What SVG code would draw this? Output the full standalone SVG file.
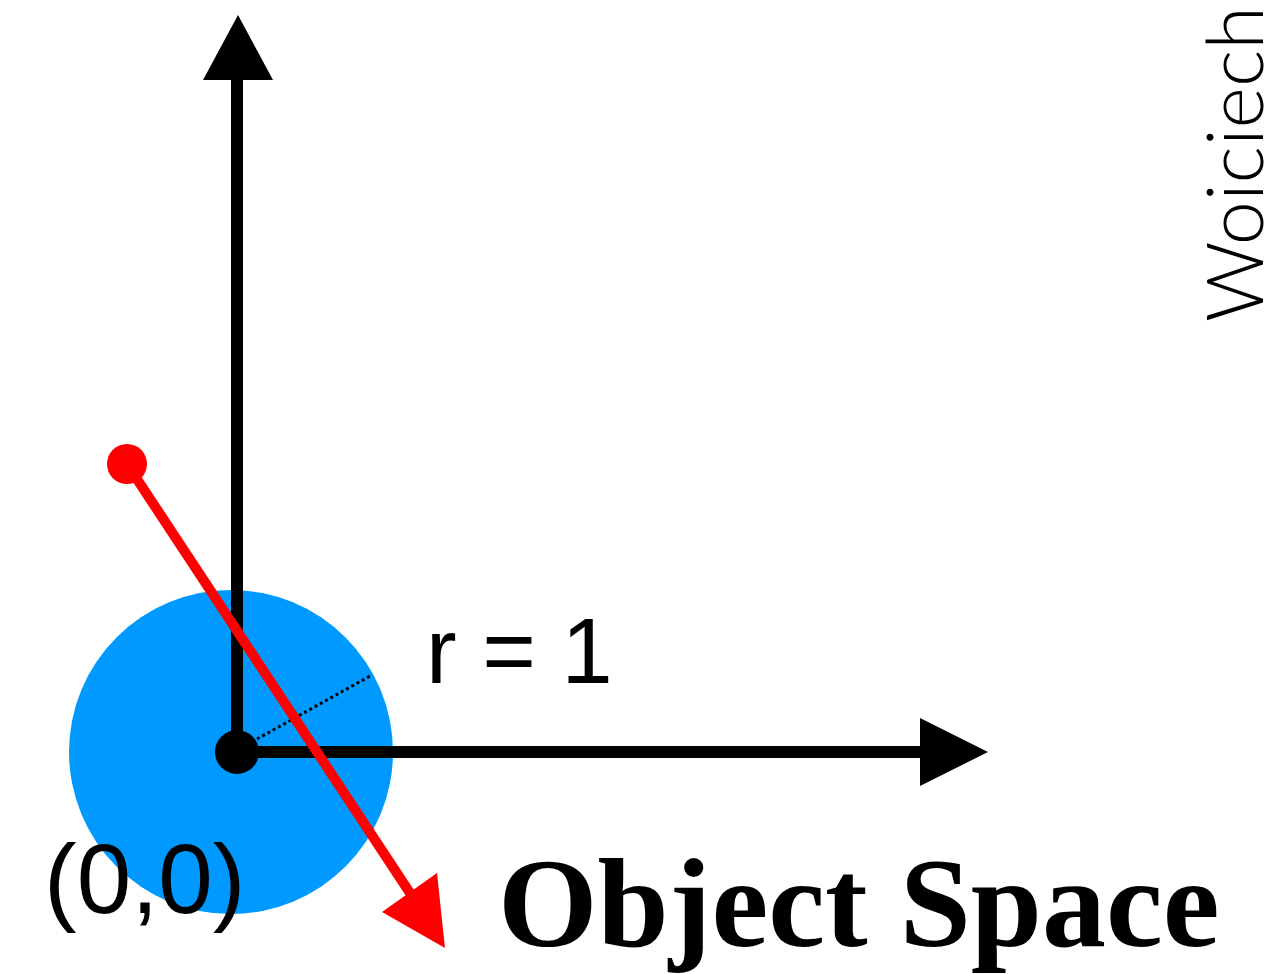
<svg xmlns="http://www.w3.org/2000/svg" width="1270" height="974" viewBox="0 0 1270 974">
<style>
.axis{stroke:#000;stroke-width:12;fill:none}
.head{fill:#000}
.red{stroke:#ff0000;stroke-width:10;fill:none}
.sans{font-family:"Liberation Sans",Arial,sans-serif;fill:#000}
.serifb{font-family:"Liberation Serif","Times New Roman",serif;font-weight:bold;fill:#000}
.thin{font-family:Lato,"Open Sans",sans-serif;font-weight:300;fill:#000}
</style>
<rect width="1270" height="974" fill="#fff"/>
<g id="sphere">
<circle cx="231" cy="752" r="162" fill="#0099ff"/>
</g>
<g id="connectors">
<line class="axis" x1="237" y1="752" x2="237" y2="78"/>
<polygon class="head" points="203,80 273,80 238,15"/>
<line class="axis" x1="237" y1="752" x2="922" y2="752"/>
<polygon class="head" points="920,718 920,786 988,752"/>
<line x1="257" y1="739" x2="370" y2="676" stroke="#000" stroke-width="3" stroke-dasharray="3 3"/>
<line class="red" x1="127" y1="464" x2="410" y2="893"/>
<polygon fill="#ff0000" points="382,912 437,873 445,948"/>
</g>
<g id="origin">
<circle cx="237" cy="752" r="22" fill="#000"/>
</g>
<g id="ray-origin">
<circle cx="127" cy="464" r="20" fill="#ff0000"/>
</g>
<g id="labels">
<text class="sans" x="426" y="683" font-size="92">r = 1</text>
<text class="sans" x="44" y="913" font-size="98">(0,0)</text>
<text class="serifb" x="498" y="946" font-size="128">Object Space</text>
<text class="thin" transform="translate(1263,322) rotate(-90)" font-size="78" textLength="316" lengthAdjust="spacingAndGlyphs">Woiciech</text>
</g>
</svg>
